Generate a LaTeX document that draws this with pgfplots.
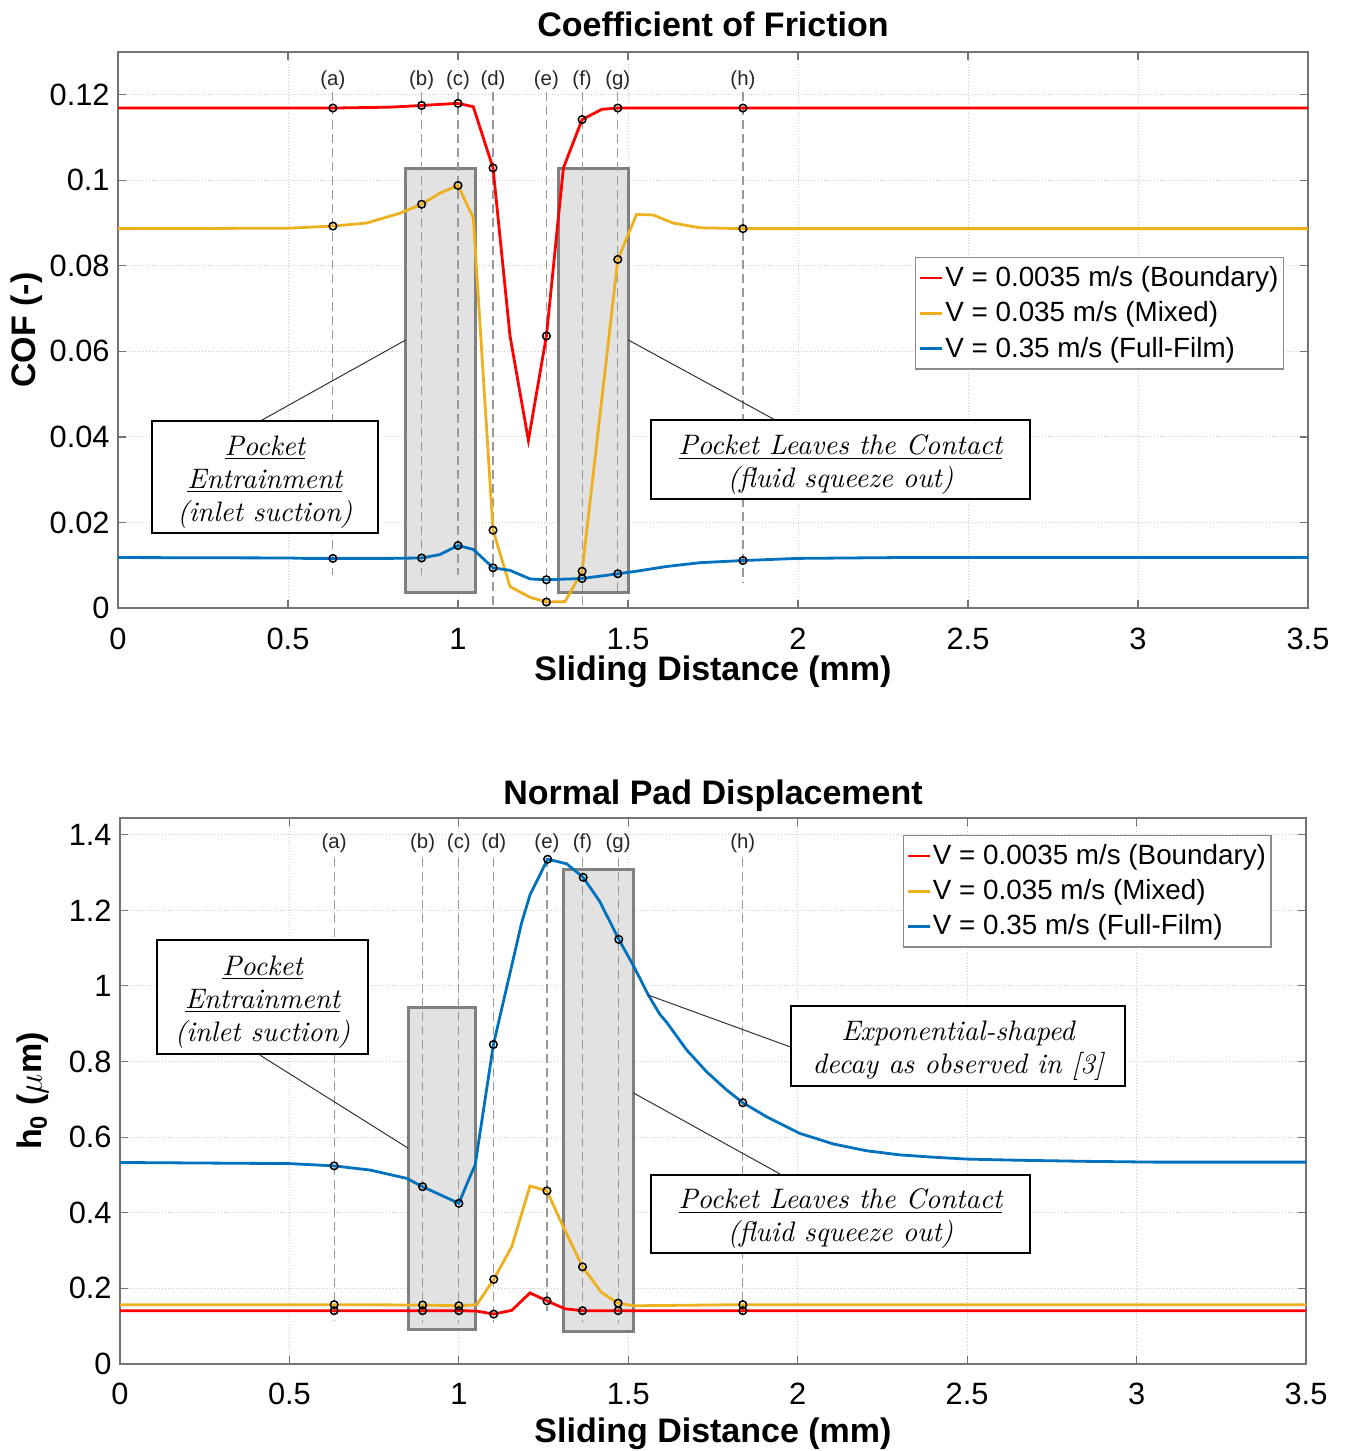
\documentclass[border=0pt]{standalone}
\usepackage[no-math]{fontspec}
\setmainfont{Liberation Sans}
\usepackage{pgfplots}
\usepackage{pgfplotstable}
\pgfplotsset{compat=1.18}

\definecolor{cRed}{rgb}{1,0,0}
\definecolor{cYel}{rgb}{0.929,0.694,0.125}
\definecolor{cBlu}{rgb}{0,0.447,0.741}
\definecolor{axgray}{rgb}{0.45,0.45,0.45}
\definecolor{boxfill}{rgb}{0.885,0.885,0.885}
\definecolor{boxedge}{rgb}{0.5,0.5,0.5}

% text font of the annotations (Latin Modern italic, 10pt design)
\newfontfamily\lmit{lmroman10-italic}[Extension=.otf]
\newcommand{\nstrut}{\rule{0pt}{15pt}}

% ---------- Coefficient of friction ----------
\pgfplotstableread{
x y
0 0.1169
0.632 0.1169
0.80 0.1171
0.893 0.1175
1.0 0.1180
1.045 0.1172
1.103 0.1029
1.153 0.0636
1.207 0.0392
1.26 0.0636
1.31 0.1029
1.365 0.1142
1.423 0.1166
1.47 0.1169
1.838 0.1169
3.5 0.1169
}\cofBoundary
\pgfplotstableread{
x y
0 0.0887
0.5 0.0888
0.632 0.0893
0.731 0.0900
0.829 0.0923
0.893 0.0944
0.947 0.0970
1.0 0.0988
1.045 0.0912
1.103 0.0182
1.153 0.0050
1.212 0.0025
1.26 0.0014
1.315 0.0015
1.365 0.0086
1.47 0.0815
1.525 0.0920
1.574 0.0919
1.633 0.0900
1.712 0.0889
1.838 0.0887
3.5 0.0887
}\cofMixed
\pgfplotstableread{
x y
0 0.0118
0.5 0.0117
0.55 0.0116
0.632 0.0116
0.8 0.0116
0.893 0.0117
0.947 0.0125
1.0 0.0146
1.045 0.0137
1.103 0.0094
1.153 0.0088
1.212 0.0068
1.26 0.0066
1.365 0.0069
1.47 0.0080
1.525 0.0086
1.613 0.0097
1.712 0.0106
1.838 0.0111
2.0 0.0116
2.3 0.0118
3.5 0.0118
}\cofFull

% ---------- Normal pad displacement ----------
\pgfplotstableread{
x y
0 0.141
0.632 0.141
1.0 0.141
1.053 0.140
1.103 0.132
1.156 0.142
1.21 0.188
1.26 0.167
1.313 0.146
1.365 0.141
3.5 0.141
}\hBoundary
\pgfplotstableread{
x y
0 0.157
0.632 0.157
0.893 0.156
1.0 0.154
1.053 0.157
1.103 0.224
1.156 0.310
1.21 0.471
1.26 0.458
1.308 0.363
1.365 0.257
1.421 0.189
1.47 0.161
1.515 0.154
1.838 0.157
3.5 0.157
}\hMixed
\pgfplotstableread{
x y
0 0.533
0.5 0.530
0.632 0.524
0.738 0.513
0.846 0.491
0.893 0.469
1.0 0.425
1.033 0.496
1.048 0.526
1.102 0.845
1.151 1.034
1.185 1.166
1.21 1.241
1.262 1.335
1.318 1.323
1.367 1.287
1.416 1.223
1.472 1.123
1.515 1.054
1.559 0.976
1.593 0.925
1.613 0.904
1.672 0.831
1.731 0.773
1.790 0.725
1.838 0.691
1.908 0.654
2.006 0.610
2.105 0.582
2.203 0.564
2.302 0.553
2.40 0.547
2.498 0.542
2.646 0.539
2.85 0.536
3.05 0.534
3.5 0.534
}\hFull

\pgfplotsset{
  matlab/.style={
    scale only axis, clip=false,
    xmin=0, xmax=3.5,
    xtick={0,0.5,...,3.5},
    xticklabels={0,0.5,1,1.5,2,2.5,3,3.5},
    scaled y ticks=false,
    /pgf/number format/assume math mode=true,
    grid=major,
    grid style={densely dotted, black!20, line width=0.5pt},
    axis line style={axgray, line width=0.6pt},
    tick style={axgray, line width=0.6pt},
    tick align=inside, major tick length=4pt,
    ticklabel style={font=\fontsize{15.4}{18}\selectfont},
    xticklabel style={anchor=base, yshift=-20.5pt},
    yticklabel style={anchor=east, inner xsep=0pt, xshift=-4pt},
    title style={at={(axis description cs:0.5,1)}, anchor=base, font=\bfseries\fontsize{17}{20}\selectfont},
    xlabel style={at={(axis description cs:0.5,0)}, anchor=base, font=\bfseries\fontsize{17}{20}\selectfont},
    ylabel style={anchor=center, font=\bfseries\fontsize{17}{20}\selectfont},
    legend cell align=left,
    legend image code/.code={\draw[##1, line width=1.3pt] (0pt,0pt) -- (11pt,0pt);},
    legend style={draw=black!45, line width=0.6pt, fill=white,
      font=\fontsize{13.9}{16}\selectfont, inner xsep=1.5pt, inner ysep=1.5pt,
      row sep=0pt, nodes={inner xsep=1pt, inner ysep=3pt}},
    every axis plot/.append style={line width=1.4pt},
  },
  vmarks/.style={only marks, mark=o, mark size=1.9pt,
    mark options={draw=black, fill=white, line width=0.75pt}, forget plot},
}
\tikzset{
  pocket/.style={draw=boxedge, fill=boxfill, line width=1.5pt},
  note/.style={draw=black, fill=white, line width=0.7pt, align=center,
    inner sep=1pt, font=\lmit\fontsize{14.1}{16.5}\selectfont},
  leader/.style={draw=black!80, line width=0.5pt},
}

% dashed event line: x, top, bottom, label y, letter
\newcommand{\event}[5]{%
  \draw[black!40, line width=0.6pt, dash pattern=on 4.5pt off 2.5pt]
    (axis cs:#1,#2) -- (axis cs:#1,#3);
  \node[font=\fontsize{10.2}{12}\selectfont, text=black!85] at (axis cs:#1,#4) {(#5)};}

\begin{document}
\begin{tikzpicture}
\path[use as bounding box] (0,0) rectangle (672pt,-725.5pt);

% ================= top: coefficient of friction =================
\begin{axis}[matlab,
  at={(59pt,-304pt)}, anchor=south west,
  width=595pt, height=278pt,
  ymin=0, ymax=0.13,
  ytick={0,0.02,...,0.12},
  yticklabels={0,0.02,0.04,0.06,0.08,0.1,0.12},
  title={Coefficient of Friction},
  title style={yshift=2pt},
  xlabel={Sliding Distance (mm)},
  xlabel style={yshift=-36pt},
  ylabel={COF (-)},
  ylabel style={at={(axis description cs:-0.0765,0.5)}},
  legend style={at={(0.9798,0.6313)}, anchor=north east},
]
\draw[pocket] (axis cs:0.847,0.0037) rectangle (axis cs:1.05,0.1027);
\draw[pocket] (axis cs:1.297,0.0037) rectangle (axis cs:1.50,0.1027);

\event{0.632}{0.1207}{0.0077}{0.1235}{a}
\event{0.893}{0.1207}{0.0077}{0.1235}{b}
\event{1.0}{0.1207}{0.0077}{0.1235}{c}
\event{1.103}{0.1207}{0}{0.1235}{d}
\event{1.26}{0.1207}{0}{0.1235}{e}
\event{1.365}{0.1207}{0}{0.1235}{f}
\event{1.47}{0.1207}{0.003}{0.1235}{g}
\event{1.838}{0.1207}{0.006}{0.1235}{h}

\addplot[cRed] table {\cofBoundary};
\addlegendentry{V = 0.0035 m/s (Boundary)}
\addplot[cYel] table {\cofMixed};
\addlegendentry{V = 0.035 m/s (Mixed)}
\addplot[cBlu] table {\cofFull};
\addlegendentry{V = 0.35 m/s (Full-Film)}

\addplot[vmarks] coordinates {(0.632,0.1169) (0.893,0.1175) (1.0,0.1180) (1.103,0.1029)
  (1.26,0.0636) (1.365,0.1142) (1.47,0.1169) (1.838,0.1169)};
\addplot[vmarks] coordinates {(0.632,0.0893) (0.893,0.0944) (1.0,0.0988) (1.103,0.0182)
  (1.26,0.0014) (1.365,0.0086) (1.47,0.0815) (1.838,0.0887)};
\addplot[vmarks] coordinates {(0.632,0.0116) (0.893,0.0117) (1.0,0.0146) (1.103,0.0094)
  (1.26,0.0066) (1.365,0.0069) (1.47,0.0080) (1.838,0.0111)};

\draw[leader] (axis cs:0.418,0.0437) -- (axis cs:0.847,0.0627);
\draw[leader] (axis cs:1.50,0.0627) -- (axis cs:1.932,0.0440);

\node[note, minimum width=113pt, minimum height=56pt] at (axis cs:0.432,0.0306)
  {\nstrut\underline{Pocket}\\\underline{Entrainment}\\(inlet suction)};
\node[note, minimum width=189.5pt, minimum height=39.5pt] at (axis cs:2.125,0.0347)
  {\nstrut\underline{Pocket Leaves the Contact}\\(fluid squeeze out)};
\end{axis}

% ================= bottom: normal pad displacement =================
\begin{axis}[matlab,
  at={(60pt,-682pt)}, anchor=south west,
  width=593pt, height=273pt,
  ymin=0, ymax=1.444,
  ytick={0,0.2,...,1.4},
  yticklabels={0,0.2,0.4,0.6,0.8,1,1.2,1.4},
  title={Normal Pad Displacement},
  title style={yshift=1pt},
  xlabel={Sliding Distance (mm)},
  xlabel style={yshift=-39pt},
  ylabel={h\textsubscript{0} (\textmd{$\mu$}m)},
  ylabel style={at={(axis description cs:-0.0734,0.5)}},
  xticklabel style={yshift=0.5pt},
  legend style={at={(0.971,0.969)}, anchor=north east},
]
\draw[pocket] (axis cs:0.851,0.090) rectangle (axis cs:1.05,0.943);
\draw[pocket] (axis cs:1.31,0.085) rectangle (axis cs:1.515,1.309);

\event{0.632}{1.339}{0.116}{1.378}{a}
\event{0.893}{1.339}{0.108}{1.378}{b}
\event{1.0}{1.339}{0.108}{1.378}{c}
\event{1.103}{1.339}{0.108}{1.378}{d}
\event{1.26}{1.339}{0.14}{1.378}{e}
\event{1.365}{1.339}{0.112}{1.378}{f}
\event{1.47}{1.339}{0.108}{1.378}{g}
\event{1.838}{1.339}{0.125}{1.378}{h}

\addplot[cRed] table {\hBoundary};
\addlegendentry{V = 0.0035 m/s (Boundary)}
\addplot[cYel] table {\hMixed};
\addlegendentry{V = 0.035 m/s (Mixed)}
\addplot[cBlu] table {\hFull};
\addlegendentry{V = 0.35 m/s (Full-Film)}

\addplot[vmarks] coordinates {(0.632,0.141) (0.893,0.141) (1.0,0.141) (1.103,0.132)
  (1.26,0.167) (1.365,0.141) (1.47,0.141) (1.838,0.141)};
\addplot[vmarks] coordinates {(0.632,0.157) (0.893,0.156) (1.0,0.154) (1.103,0.224)
  (1.26,0.458) (1.365,0.257) (1.47,0.161) (1.838,0.157)};
\addplot[vmarks] coordinates {(0.632,0.524) (0.893,0.469) (1.0,0.425) (1.102,0.845)
  (1.262,1.335) (1.367,1.287) (1.472,1.123) (1.838,0.691)};

\draw[leader] (axis cs:0.413,0.817) -- (axis cs:0.85,0.571);
\draw[leader] (axis cs:1.977,0.839) -- (axis cs:1.558,0.976);
\draw[leader] (axis cs:1.515,0.717) -- (axis cs:1.947,0.503);

\node[note, minimum width=105.5pt, minimum height=57pt] at (axis cs:0.4205,0.971)
  {\nstrut\underline{Pocket}\\\underline{Entrainment}\\(inlet suction)};
\node[note, minimum width=167pt, minimum height=40pt] at (axis cs:2.473,0.841)
  {\nstrut Exponential-shaped\\decay as observed in [3]};
\node[note, minimum width=189.5pt, minimum height=39pt] at (axis cs:2.126,0.397)
  {\nstrut\underline{Pocket Leaves the Contact}\\(fluid squeeze out)};
\end{axis}
\end{tikzpicture}
\end{document}
